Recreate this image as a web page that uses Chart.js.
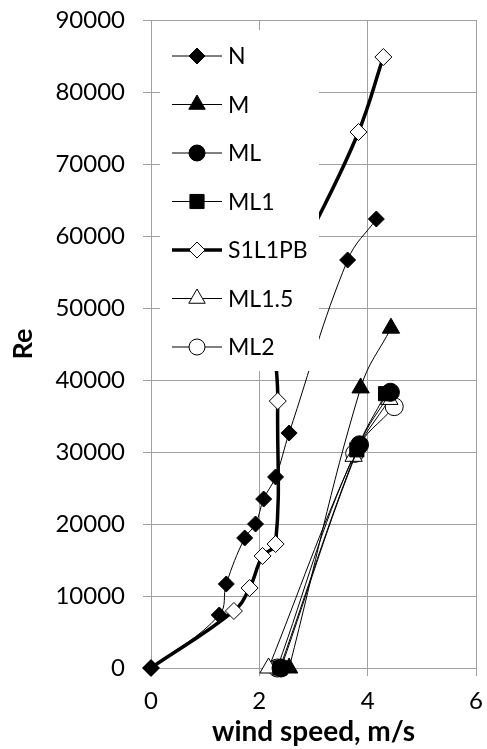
<!DOCTYPE html>
<html>
<head>
<meta charset="utf-8">
<script src="https://cdn.jsdelivr.net/npm/chart.js@4.4.0/dist/chart.umd.min.js"></script>
<style>
  html, body { margin: 0; padding: 0; background: #fff; }
  #chartContainer { width: 487px; height: 749px; position: relative; }
</style>
</head>
<body>
<div id="chartContainer"><canvas id="graficoRe"></canvas></div>
<script>
// Dados (velocidade do vento em m/s, Re)
const seriesNames = ['N', 'M', 'ML', 'ML1', 'S1L1PB', 'ML1.5', 'ML2'];

const nX = [0, 1.26, 1.39, 1.73, 1.93, 2.08, 2.30, 2.55, 3.63, 4.16];
const nY = [0, 7360, 11670, 18060, 20000, 23470, 26530, 32640, 56670, 62360];

const mX = [2.55, 3.87, 4.43];
const mY = [0, 38900, 47200];

const mlX = [2.40, 3.85, 4.42];
const mlY = [0, 31000, 38300];

const ml1X = [2.38, 3.80, 4.33];
const ml1Y = [0, 30300, 38100];

// o ponto perto de 50000 fica escondido atrás da legenda
const s1X = [0, 1.53, 1.82, 2.06, 2.30, 2.34, 2.38, 3.83, 4.29];
const s1Y = [0, 7920, 11110, 15560, 17220, 37080, 49500, 74440, 84860];

const ml15X = [2.17, 3.74, 4.40];
const ml15Y = [0, 29400, 37300];

const ml2X = [2.33, 3.76, 4.49];
const ml2Y = [0, 29800, 36300];

// Eixos
const xTicks = [0, 2, 4, 6];
const yTicks = [0, 10000, 20000, 30000, 40000, 50000, 60000, 70000, 80000, 90000];

const toPoints = (xs, ys) => xs.map((x, i) => ({ x: x, y: ys[i] }));

const gridColor = '#a0a0a0';
const fontFamily = 'Lato';

// estilo de cada série: marcador, preenchimento, espessura
function serie(label, xs, ys, style, radius, fill, width) {
  return {
    label: label,
    data: toPoints(xs, ys),
    showLine: true,
    tension: 0.4,
    borderColor: '#000',
    borderWidth: width,
    pointStyle: style,
    pointRadius: radius,
    pointHoverRadius: radius,
    pointBorderWidth: 1,
    pointBorderColor: '#000',
    pointBackgroundColor: fill,
    clip: false
  };
}

const datasets = [
  serie(seriesNames[0], nX, nY, 'rectRot', 8, '#000', 1),
  serie(seriesNames[1], mX, mY, 'triangle', 10, '#000', 1),
  serie(seriesNames[2], mlX, mlY, 'circle', 9, '#000', 1),
  serie(seriesNames[3], ml1X, ml1Y, 'rect', 10, '#000', 1),
  serie(seriesNames[4], s1X, s1Y, 'rectRot', 8.5, '#fff', 3.5),
  serie(seriesNames[5], ml15X, ml15Y, 'triangle', 10, '#fff', 1),
  serie(seriesNames[6], ml2X, ml2Y, 'circle', 9, '#fff', 1)
];
// o ponto escondido não leva marcador
datasets[4].pointRadius = s1X.map((x, i) => (i === 6 ? 0 : 8.5));

// desenha um marcador no estilo do Excel
function drawMarker(ctx, style, r, x, y) {
  ctx.beginPath();
  if (style === 'circle') {
    ctx.arc(x, y, r, 0, Math.PI * 2);
  } else if (style === 'triangle') {
    ctx.moveTo(x, y - r);
    ctx.lineTo(x + r * Math.sin(Math.PI * 2 / 3), y + r / 2);
    ctx.lineTo(x - r * Math.sin(Math.PI * 2 / 3), y + r / 2);
  } else if (style === 'rect') {
    const s = Math.SQRT1_2 * r;
    ctx.rect(x - s, y - s, 2 * s, 2 * s);
  } else {
    ctx.moveTo(x - r, y);
    ctx.lineTo(x, y - r);
    ctx.lineTo(x + r, y);
    ctx.lineTo(x, y + r);
  }
  ctx.closePath();
  ctx.fill();
  ctx.stroke();
}

const legendRadius = { rectRot: 8, triangle: 9.5, circle: 8, rect: 10 };

// legenda dentro da área do gráfico, com fundo branco por cima das linhas
const legendaInterna = {
  id: 'legendaInterna',
  afterDatasetsDraw(chart) {
    const ctx = chart.ctx;
    const area = chart.chartArea;
    const left = area.left + 9;
    const top = area.top + 10;
    ctx.save();
    ctx.fillStyle = '#fff';
    ctx.fillRect(left, top, 159, 341);
    chart.data.datasets.forEach((ds, i) => {
      const y = top + 26 + i * 48.5;
      ctx.strokeStyle = '#000';
      ctx.lineWidth = ds.borderWidth;
      ctx.beginPath();
      ctx.moveTo(left + 12, y);
      ctx.lineTo(left + 62, y);
      ctx.stroke();
      ctx.lineWidth = 1;
      ctx.fillStyle = ds.pointBackgroundColor;
      drawMarker(ctx, ds.pointStyle, legendRadius[ds.pointStyle], left + 37, y);
      ctx.fillStyle = '#000';
      ctx.font = '23px ' + fontFamily;
      ctx.textAlign = 'left';
      ctx.textBaseline = 'middle';
      ctx.fillText(ds.label, left + 68, y + 1);
    });
    ctx.restore();
  }
};

const ctx = document.getElementById('graficoRe').getContext('2d');
const chart = new Chart(ctx, {
  type: 'scatter',
  data: { datasets: datasets },
  plugins: [legendaInterna],
  options: {
    responsive: true,
    maintainAspectRatio: false,
    animation: false,
    events: [],
    layout: { padding: { top: 20, right: 7, left: 0, bottom: 0 } },
    plugins: {
      legend: { display: false },
      tooltip: { enabled: false }
    },
    scales: {
      x: {
        type: 'linear',
        min: 0,
        max: 6,
        afterBuildTicks: scale => { scale.ticks = xTicks.map(v => ({ value: v })); },
        ticks: {
          color: '#000',
          padding: 11,
          font: { family: fontFamily, size: 24 }
        },
        grid: { color: gridColor, lineWidth: 1, tickLength: 8 },
        border: { color: gridColor, width: 1 },
        title: {
          display: true,
          text: 'wind speed, m/s',
          color: '#000',
          font: { family: fontFamily, size: 28, weight: 'bold' },
          padding: { top: 0, bottom: 0 }
        },
        afterFit: scale => {
          scale.height = 81;
          scale.paddingLeft = 0;
          scale.paddingRight = 0;
        }
      },
      y: {
        type: 'linear',
        min: 0,
        max: 90000,
        afterBuildTicks: scale => { scale.ticks = yTicks.map(v => ({ value: v })); },
        ticks: {
          color: '#000',
          padding: 18,
          font: { family: fontFamily, size: 24 },
          callback: v => String(v)
        },
        grid: { color: gridColor, lineWidth: 1, tickLength: 8 },
        border: { color: gridColor, width: 1 },
        title: {
          display: true,
          text: 'Re',
          color: '#000',
          font: { family: fontFamily, size: 27, weight: 'bold' },
          padding: { top: 7, bottom: 0 }
        },
        afterFit: scale => {
          scale.width = 151;
          scale.paddingTop = 0;
          scale.paddingBottom = 0;
        }
      }
    }
  }
});
</script>
</body>
</html>
